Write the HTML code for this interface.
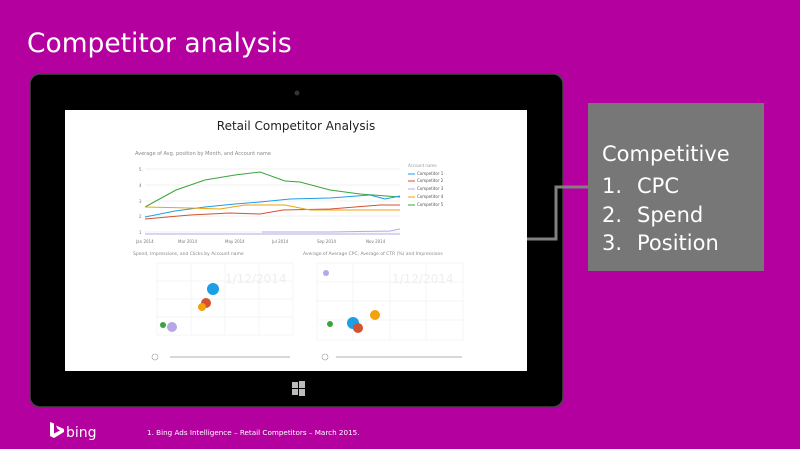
<!DOCTYPE html>
<html><head><meta charset="utf-8"><style>
html,body{margin:0;padding:0;}
body{width:800px;height:449px;background:#B4009E;overflow:hidden;position:relative;font-family:"DejaVu Sans","Liberation Sans",sans-serif;}
</style></head><body>
<svg width="800" height="449" viewBox="0 0 800 449" xmlns="http://www.w3.org/2000/svg" style="position:absolute;left:0;top:0">
<rect width="800" height="449" fill="#B4009E"/>
<text x="27" y="52" fill="#fff" font-size="26.5" font-family="DejaVu Sans, sans-serif">Competitor analysis</text>
<rect x="30" y="74" width="533" height="333" rx="10" fill="#000" stroke="#444" stroke-width="1.5"/>
<circle cx="297" cy="93" r="2.5" fill="#333"/>
<rect x="65" y="110" width="462" height="261" fill="#fff"/>
<g fill="#bbb"><rect x="292" y="382" width="6" height="6"/><rect x="299" y="381" width="6" height="7"/><rect x="292" y="389" width="6" height="6"/><rect x="299" y="389" width="6" height="7"/></g>
<polyline points="527,239 556,239 556,187 588,187" fill="none" stroke="#808080" stroke-width="3"/>
<rect x="588" y="103" width="176" height="168" fill="#777"/>
<g fill="#fff" font-family="DejaVu Sans, sans-serif" font-size="21">
<text x="602" y="161">Competitive</text>
<text x="602" y="193">1.</text><text x="637" y="193">CPC</text>
<text x="602" y="222">2.</text><text x="637" y="222">Spend</text>
<text x="602" y="250">3.</text><text x="637" y="250">Position</text>
</g>
<text x="296" y="130" text-anchor="middle" font-size="12" fill="#222" font-family="DejaVu Sans, sans-serif">Retail Competitor Analysis</text>
<text x="135" y="155" font-size="5" fill="#888">Average of Avg. position by Month, and Account name</text>
<g stroke="#e4e4e4" stroke-width="0.6"><line x1="145" y1="169" x2="400" y2="169"/><line x1="145" y1="185" x2="400" y2="185"/><line x1="145" y1="201" x2="400" y2="201"/><line x1="145" y1="216" x2="400" y2="216"/><line x1="145" y1="232" x2="400" y2="232"/></g>
<g font-size="4" fill="#777"><text x="139" y="171">5</text><text x="139" y="187">4</text><text x="139" y="203">3</text><text x="139" y="218">2</text><text x="139" y="234">1</text>
<text x="136" y="243">Jan 2014</text><text x="178" y="243">Mar 2014</text><text x="225" y="243">May 2014</text><text x="272" y="243">Jul 2014</text><text x="317" y="243">Sep 2014</text><text x="366" y="243">Nov 2014</text></g>
<g fill="none" stroke-width="1">
<polyline stroke="#3aa53a" points="145,207 176,190 205,180 235,175 260,172 285,181 300,182 330,190 360,194 400,197"/>
<polyline stroke="#1e9ee6" points="145,217 175,211 205,207 235,204 260,202 290,199 330,198 370,195 385,199 400,196"/>
<polyline stroke="#d35230" points="145,219 190,215 230,213 260,214 283,210 330,209 380,205 400,205"/>
<polyline stroke="#f2a20c" points="145,207 190,208 220,209 245,205 285,205 310,210 400,210"/>
<polyline stroke="#b6a8e6" points="262,232 330,232 390,231 400,229"/>
<line x1="145" y1="234" x2="400" y2="234" stroke="#c8c8e8" stroke-width="1.5"/>
</g>
<g font-size="4" fill="#555"><text x="408" y="167" fill="#999">Account name</text>
<line x1="408" y1="174" x2="415" y2="174" stroke="#1e9ee6"/><text x="417" y="175">Competitor 1</text>
<line x1="408" y1="181" x2="415" y2="181" stroke="#d35230"/><text x="417" y="182">Competitor 2</text>
<line x1="408" y1="189" x2="415" y2="189" stroke="#b6a8e6"/><text x="417" y="190">Competitor 3</text>
<line x1="408" y1="197" x2="415" y2="197" stroke="#f2a20c"/><text x="417" y="198">Competitor 4</text>
<line x1="408" y1="205" x2="415" y2="205" stroke="#3aa53a"/><text x="417" y="206">Competitor 5</text></g>
<text x="133" y="255" font-size="4.5" fill="#888">Spend, Impressions, and Clicks by Account name</text>
<g stroke="#ececec" stroke-width="0.5"><rect x="157" y="263" width="136" height="72" fill="none"/><line x1="157" y1="281" x2="293" y2="281"/><line x1="157" y1="299" x2="293" y2="299"/><line x1="157" y1="317" x2="293" y2="317"/><line x1="191" y1="263" x2="191" y2="335"/><line x1="225" y1="263" x2="225" y2="335"/><line x1="259" y1="263" x2="259" y2="335"/></g>
<text x="225" y="283" font-size="12" fill="#eee">1/12/2014</text>
<circle cx="213" cy="289" r="6" fill="#1e9ee6"/><circle cx="206" cy="303" r="5" fill="#d35230"/><circle cx="202" cy="307" r="4" fill="#f2a20c"/><circle cx="163" cy="325" r="3" fill="#3aa53a"/><circle cx="172" cy="327" r="5" fill="#b6a8e6"/>
<line x1="170" y1="357" x2="290" y2="357" stroke="#999" stroke-width="0.8"/><circle cx="155" cy="357" r="3" fill="none" stroke="#999" stroke-width="0.6"/>
<text x="303" y="255" font-size="4.5" fill="#888">Average of Average CPC, Average of CTR (%) and Impressions</text>
<g stroke="#ececec" stroke-width="0.5"><rect x="317" y="263" width="146" height="77" fill="none"/><line x1="317" y1="282" x2="463" y2="282"/><line x1="317" y1="301" x2="463" y2="301"/><line x1="317" y1="320" x2="463" y2="320"/><line x1="353" y1="263" x2="353" y2="340"/><line x1="390" y1="263" x2="390" y2="340"/><line x1="426" y1="263" x2="426" y2="340"/></g>
<text x="392" y="283" font-size="12" fill="#eee">1/12/2014</text>
<circle cx="326" cy="273" r="3" fill="#b6a8e6"/><circle cx="375" cy="315" r="5" fill="#f2a20c"/><circle cx="353" cy="323" r="6" fill="#1e9ee6"/><circle cx="358" cy="328" r="5" fill="#d35230"/><circle cx="330" cy="324" r="3" fill="#3aa53a"/>
<line x1="336" y1="357" x2="462" y2="357" stroke="#999" stroke-width="0.8"/><circle cx="325" cy="357" r="3" fill="none" stroke="#999" stroke-width="0.6"/>
<path d="M50 422 l4 1.5 v10 l6 -3 l-2.5 -1.5 l-1.5 -3.5 l8 3.5 v3 l-10 6 l-4 -2 z" fill="#fff"/>
<text x="66" y="437" font-size="14" fill="#fff" font-family="DejaVu Sans, sans-serif">bing</text>
<text x="147" y="435" font-size="7.2" fill="#fff" font-family="DejaVu Sans, sans-serif">1. Bing Ads Intelligence – Retail Competitors – March 2015.</text>
</svg>
</body></html>
